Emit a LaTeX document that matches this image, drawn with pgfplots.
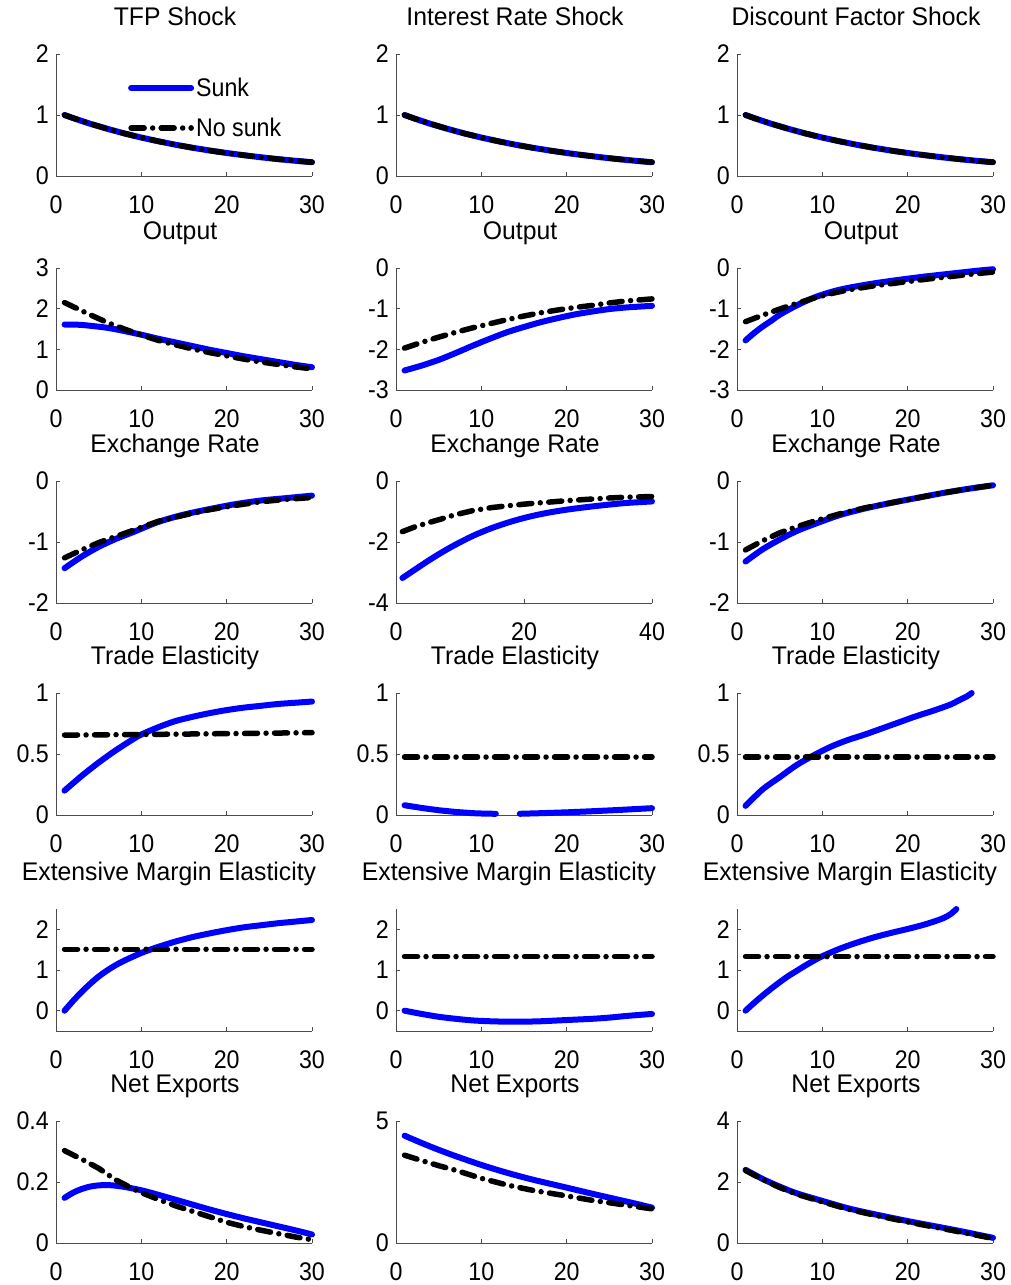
\documentclass[border=0pt]{standalone}
\usepackage{fontspec}
\setmainfont[FakeStretch=0.91]{Liberation Sans}
\newfontfamily\titlefont[FakeStretch=0.97]{Liberation Sans}
\usepackage{pgfplots}
\pgfplotsset{compat=1.18}
\newcommand{\ff}{\fontsize{25.5}{29}\selectfont}
\pgfplotsset{
  panel/.style={
    scale only axis, width=256pt, height=122pt,
    anchor=south west,
    axis x line*=bottom, axis y line*=left,
    axis line style={line width=0.8pt, color=black!70, -},
    tick style={line width=0.8pt, color=black!70},
    tick align=inside, major tick length=4pt,
    xmin=0, xmax=30, xtick={0,10,20,30}, xticklabels={0,10,20,30},
    tick label style={font=\ff, inner sep=0pt},
    xticklabel style={anchor=north, yshift=-19pt},
    yticklabel style={anchor=east, xshift=-7pt},
    title style={font=\titlefont\ff, at={(0.5,1)}, anchor=base, yshift=23pt, xshift=-9pt, inner sep=0pt},
    clip=false,
  },
  sunk/.style={color=blue, line width=6pt, line cap=round, line join=round, mark=none},
  nosunk/.style={color=black, line width=5.5pt, line cap=round, line join=round, mark=none,
    dash pattern=on 13pt off 8.5pt on 0pt off 8.5pt},
}
\begin{document}
\begin{tikzpicture}[x=1pt,y=1pt]
\useasboundingbox (0,0) rectangle (1011,-1285);
% ---------------- Row 1 ----------------
\begin{axis}[panel, at={(56pt,-176pt)}, title={TFP Shock},
  ymin=0, ymax=2, ytick={0,1,2}, yticklabels={0,1,2},
  legend style={draw=none, fill=none, at={(0.281,0.557)}, anchor=west, inner sep=0pt,
    font=\ff, row sep=16pt, column sep=0pt, cells={anchor=west}},
  legend image code/.code={\draw[#1] (0pt,0pt) -- (60pt,0pt);}]
\addplot[sunk] coordinates {(1,1) (2,0.95) (4,0.857) (6,0.774) (8,0.698) (10,0.630) (12,0.569) (14,0.513) (16,0.463) (18,0.418) (20,0.377) (22,0.341) (24,0.307) (26,0.277) (28,0.250) (30,0.226)};
\addlegendentry{Sunk}
\addplot[nosunk] coordinates {(1,1) (2,0.95) (4,0.857) (6,0.774) (8,0.698) (10,0.630) (12,0.569) (14,0.513) (16,0.463) (18,0.418) (20,0.377) (22,0.341) (24,0.307) (26,0.277) (28,0.250) (30,0.226)};
\addlegendentry{No sunk}
\end{axis}
\begin{axis}[panel, at={(396pt,-176pt)}, title={Interest Rate Shock},
  ymin=0, ymax=2, ytick={0,1,2}, yticklabels={0,1,2}]
\addplot[sunk] coordinates {(1,1) (2,0.95) (4,0.857) (6,0.774) (8,0.698) (10,0.630) (12,0.569) (14,0.513) (16,0.463) (18,0.418) (20,0.377) (22,0.341) (24,0.307) (26,0.277) (28,0.250) (30,0.226)};
\addplot[nosunk] coordinates {(1,1) (2,0.95) (4,0.857) (6,0.774) (8,0.698) (10,0.630) (12,0.569) (14,0.513) (16,0.463) (18,0.418) (20,0.377) (22,0.341) (24,0.307) (26,0.277) (28,0.250) (30,0.226)};
\end{axis}
\begin{axis}[panel, at={(737pt,-176pt)}, title={Discount Factor Shock},
  ymin=0, ymax=2, ytick={0,1,2}, yticklabels={0,1,2}]
\addplot[sunk] coordinates {(1,1) (2,0.95) (4,0.857) (6,0.774) (8,0.698) (10,0.630) (12,0.569) (14,0.513) (16,0.463) (18,0.418) (20,0.377) (22,0.341) (24,0.307) (26,0.277) (28,0.250) (30,0.226)};
\addplot[nosunk] coordinates {(1,1) (2,0.95) (4,0.857) (6,0.774) (8,0.698) (10,0.630) (12,0.569) (14,0.513) (16,0.463) (18,0.418) (20,0.377) (22,0.341) (24,0.307) (26,0.277) (28,0.250) (30,0.226)};
\end{axis}
% ---------------- Row 2 ----------------
\begin{axis}[panel, at={(56pt,-390pt)}, title={Output}, title style={xshift=5pt},
  ymin=0, ymax=3, ytick={0,1,2,3}, yticklabels={0,1,2,3}]
\addplot[sunk, smooth] coordinates {(1,1.61) (2,1.61) (3,1.60) (4,1.58) (6,1.53) (8,1.45) (10,1.36) (12,1.26) (14,1.17) (16,1.08) (18,0.99) (20,0.91) (22,0.83) (24,0.76) (26,0.69) (28,0.62) (30,0.56)};
\addplot[nosunk] coordinates {(1,2.15) (2,2.05) (4,1.85) (6,1.66) (8,1.50) (10,1.35) (12,1.22) (14,1.11) (16,1.01) (18,0.92) (20,0.84) (22,0.76) (24,0.69) (26,0.63) (28,0.57) (30,0.52)};
\end{axis}
\begin{axis}[panel, at={(396pt,-390pt)}, title={Output}, title style={xshift=5pt},
  ymin=-3, ymax=0, ytick={-3,-2,-1,0}, yticklabels={-3,-2,-1,0}]
\addplot[sunk, smooth] coordinates {(1,-2.52) (3,-2.40) (5,-2.26) (7,-2.09) (9,-1.91) (11,-1.74) (13,-1.58) (15,-1.45) (17,-1.33) (19,-1.23) (21,-1.14) (23,-1.07) (25,-1.01) (27,-0.97) (30,-0.93)};
\addplot[nosunk] coordinates {(1,-1.97) (3,-1.83) (5,-1.70) (7,-1.58) (9,-1.47) (11,-1.37) (13,-1.27) (15,-1.18) (17,-1.10) (19,-1.03) (21,-0.97) (23,-0.92) (25,-0.86) (27,-0.81) (30,-0.76)};
\end{axis}
\begin{axis}[panel, at={(737pt,-390pt)}, title={Output}, title style={xshift=5pt},
  ymin=-3, ymax=0, ytick={-3,-2,-1,0}, yticklabels={-3,-2,-1,0}]
\addplot[sunk, smooth] coordinates {(1,-1.78) (2,-1.60) (3,-1.44) (4,-1.30) (5,-1.15) (7,-0.92) (9,-0.73) (11,-0.59) (13,-0.49) (16,-0.38) (19,-0.29) (22,-0.21) (25,-0.14) (28,-0.07) (30,-0.03)};
\addplot[nosunk] coordinates {(1,-1.32) (3,-1.16) (5,-1.01) (7,-0.87) (9,-0.74) (11,-0.63) (13,-0.54) (16,-0.44) (19,-0.36) (22,-0.28) (25,-0.21) (28,-0.14) (30,-0.10)};
\end{axis}
% ---------------- Row 3 ----------------
\begin{axis}[panel, at={(56pt,-603pt)}, title={Exchange Rate},
  ymin=-2, ymax=0, ytick={-2,-1,0}, yticklabels={-2,-1,0}]
\addplot[sunk, smooth] coordinates {(1,-1.43) (3,-1.24) (5,-1.08) (7,-0.95) (9,-0.84) (12,-0.67) (15,-0.55) (18,-0.46) (21,-0.38) (24,-0.32) (27,-0.28) (30,-0.24)};
\addplot[nosunk] coordinates {(1,-1.26) (3,-1.13) (5,-1.01) (7,-0.91) (9,-0.81) (12,-0.66) (15,-0.56) (18,-0.47) (21,-0.40) (24,-0.34) (27,-0.30) (30,-0.27)};
\end{axis}
\begin{axis}[panel, at={(396pt,-603pt)}, title={Exchange Rate},
  xmin=0, xmax=40, xtick={0,20,40}, xticklabels={0,20,40},
  ymin=-4, ymax=0, ytick={-4,-2,0}, yticklabels={-4,-2,0}]
\addplot[sunk, smooth] coordinates {(1,-3.18) (3,-2.90) (5,-2.62) (7,-2.36) (9,-2.12) (12,-1.80) (15,-1.54) (18,-1.33) (21,-1.16) (24,-1.03) (27,-0.93) (30,-0.85) (33,-0.78) (36,-0.72) (40,-0.67)};
\addplot[nosunk] coordinates {(1,-1.66) (3,-1.50) (5,-1.37) (7,-1.25) (9,-1.12) (12,-0.97) (15,-0.87) (18,-0.80) (21,-0.74) (24,-0.69) (27,-0.64) (30,-0.60) (33,-0.56) (36,-0.53) (40,-0.51)};
\end{axis}
\begin{axis}[panel, at={(737pt,-603pt)}, title={Exchange Rate},
  ymin=-2, ymax=0, ytick={-2,-1,0}, yticklabels={-2,-1,0}]
\addplot[sunk, smooth] coordinates {(1,-1.32) (3,-1.12) (5,-0.96) (7,-0.82) (9,-0.71) (12,-0.56) (15,-0.45) (18,-0.36) (21,-0.28) (24,-0.20) (27,-0.13) (30,-0.07)};
\addplot[nosunk] coordinates {(1,-1.13) (3,-0.98) (5,-0.85) (7,-0.75) (9,-0.66) (12,-0.54) (15,-0.44) (18,-0.36) (21,-0.28) (24,-0.20) (27,-0.13) (30,-0.07)};
\end{axis}
% ---------------- Row 4 ----------------
\begin{axis}[panel, at={(56pt,-815pt)}, title={Trade Elasticity},
  ymin=0, ymax=1, ytick={0,0.5,1}, yticklabels={0,0.5,1}]
\addplot[sunk, smooth] coordinates {(1,0.20) (3,0.32) (5,0.43) (7,0.53) (9,0.62) (10,0.66) (12,0.72) (14,0.77) (16,0.805) (18,0.835) (20,0.86) (22,0.88) (24,0.895) (26,0.91) (28,0.92) (30,0.93)};
\addplot[nosunk] coordinates {(1,0.655) (10,0.660) (20,0.667) (30,0.675)};
\end{axis}
\begin{axis}[panel, at={(396pt,-815pt)}, title={Trade Elasticity},
  ymin=0, ymax=1, ytick={0,0.5,1}, yticklabels={0,0.5,1}, unbounded coords=jump]
\addplot[sunk] coordinates {(1,0.08) (3,0.058) (5,0.039) (7,0.025) (9,0.015) (10.5,0.011) (11.7,0.010) (13,nan) (14.5,0.010) (17,0.015) (20,0.022) (23,0.031) (26,0.041) (30,0.056)};
\addplot[nosunk] coordinates {(1,0.475) (15,0.475) (30,0.475)};
\end{axis}
\begin{axis}[panel, at={(737pt,-815pt)}, title={Trade Elasticity},
  ymin=0, ymax=1, ytick={0,0.5,1}, yticklabels={0,0.5,1}]
\addplot[sunk, smooth] coordinates {(1,0.075) (3,0.21) (5,0.31) (7,0.41) (9,0.49) (11,0.56) (13,0.615) (15,0.66) (17,0.71) (19,0.76) (21,0.81) (23,0.855) (25,0.905) (26,0.94) (27,0.975) (27.5,1.0)};
\addplot[nosunk] coordinates {(1,0.475) (15,0.475) (30,0.475)};
\end{axis}
% ---------------- Row 5 ----------------
\begin{axis}[panel, at={(56pt,-1031pt)}, title={Extensive Margin Elasticity}, title style={xshift=-6pt},
  ymin=-0.5, ymax=2.5, ytick={0,1,2}, yticklabels={0,1,2}]
\addplot[sunk, smooth] coordinates {(1,0) (2,0.24) (3,0.46) (4,0.66) (5,0.84) (6,0.99) (7,1.12) (8,1.23) (10,1.42) (12,1.57) (14,1.70) (16,1.81) (18,1.90) (20,1.98) (22,2.05) (24,2.10) (26,2.15) (28,2.19) (30,2.23)};
\addplot[nosunk] coordinates {(1,1.51) (15,1.51) (30,1.51)};
\end{axis}
\begin{axis}[panel, at={(396pt,-1031pt)}, title={Extensive Margin Elasticity}, title style={xshift=-6pt},
  ymin=-0.5, ymax=2.5, ytick={0,1,2}, yticklabels={0,1,2}]
\addplot[sunk, smooth] coordinates {(1,0) (3,-0.08) (5,-0.15) (7,-0.20) (9,-0.24) (11,-0.26) (13,-0.27) (15,-0.27) (17,-0.26) (19,-0.24) (21,-0.22) (23,-0.20) (25,-0.17) (27,-0.13) (30,-0.08)};
\addplot[nosunk] coordinates {(1,1.33) (15,1.33) (30,1.33)};
\end{axis}
\begin{axis}[panel, at={(737pt,-1031pt)}, title={Extensive Margin Elasticity}, title style={xshift=-6pt},
  ymin=-0.5, ymax=2.5, ytick={0,1,2}, yticklabels={0,1,2}]
\addplot[sunk, smooth] coordinates {(1,0) (2,0.19) (3,0.37) (4,0.54) (5,0.70) (6,0.85) (7,0.98) (8,1.11) (9,1.23) (10,1.34) (12,1.52) (14,1.67) (16,1.80) (18,1.91) (20,2.01) (22,2.12) (24,2.26) (25,2.37) (25.7,2.5)};
\addplot[nosunk] coordinates {(1,1.33) (15,1.33) (30,1.33)};
\end{axis}
% ---------------- Row 6 ----------------
\begin{axis}[panel, at={(56pt,-1243pt)}, title={Net Exports},
  ymin=0, ymax=0.4, ytick={0,0.2,0.4}, yticklabels={0,0.2,0.4}]
\addplot[sunk, smooth] coordinates {(1,0.148) (2,0.165) (3,0.177) (4,0.185) (5,0.189) (6,0.190) (7,0.188) (8,0.184) (10,0.173) (12,0.158) (14,0.142) (16,0.126) (18,0.110) (20,0.095) (22,0.081) (24,0.068) (26,0.055) (28,0.042) (30,0.028)};
\addplot[nosunk] coordinates {(1,0.303) (3,0.275) (5,0.245) (7,0.207) (9,0.178) (10,0.165) (12,0.143) (14,0.122) (16,0.104) (18,0.086) (20,0.068) (22,0.054) (24,0.042) (26,0.031) (28,0.020) (30,0.011)};
\end{axis}
\begin{axis}[panel, at={(396pt,-1243pt)}, title={Net Exports},
  ymin=0, ymax=5, ytick={0,5}, yticklabels={0,5}]
\addplot[sunk, smooth] coordinates {(1,4.40) (3,4.10) (5,3.82) (7,3.56) (10,3.20) (13,2.88) (16,2.60) (20,2.27) (23,2.02) (26,1.78) (28,1.62) (30,1.45)};
\addplot[nosunk] coordinates {(1,3.60) (3,3.38) (5,3.17) (7,2.98) (10,2.65) (13,2.38) (16,2.16) (20,1.93) (23,1.75) (26,1.60) (28,1.50) (30,1.40)};
\end{axis}
\begin{axis}[panel, at={(737pt,-1243pt)}, title={Net Exports},
  ymin=0, ymax=4, ytick={0,2,4}, yticklabels={0,2,4}]
\addplot[sunk, smooth] coordinates {(1,2.40) (3,2.10) (5,1.85) (7,1.63) (10,1.38) (13,1.14) (16,0.95) (20,0.72) (23,0.56) (26,0.40) (30,0.17)};
\addplot[nosunk] coordinates {(1,2.38) (3,2.08) (5,1.82) (7,1.60) (10,1.35) (13,1.11) (16,0.92) (20,0.69) (23,0.53) (26,0.37) (30,0.15)};
\end{axis}
\end{tikzpicture}
\end{document}
